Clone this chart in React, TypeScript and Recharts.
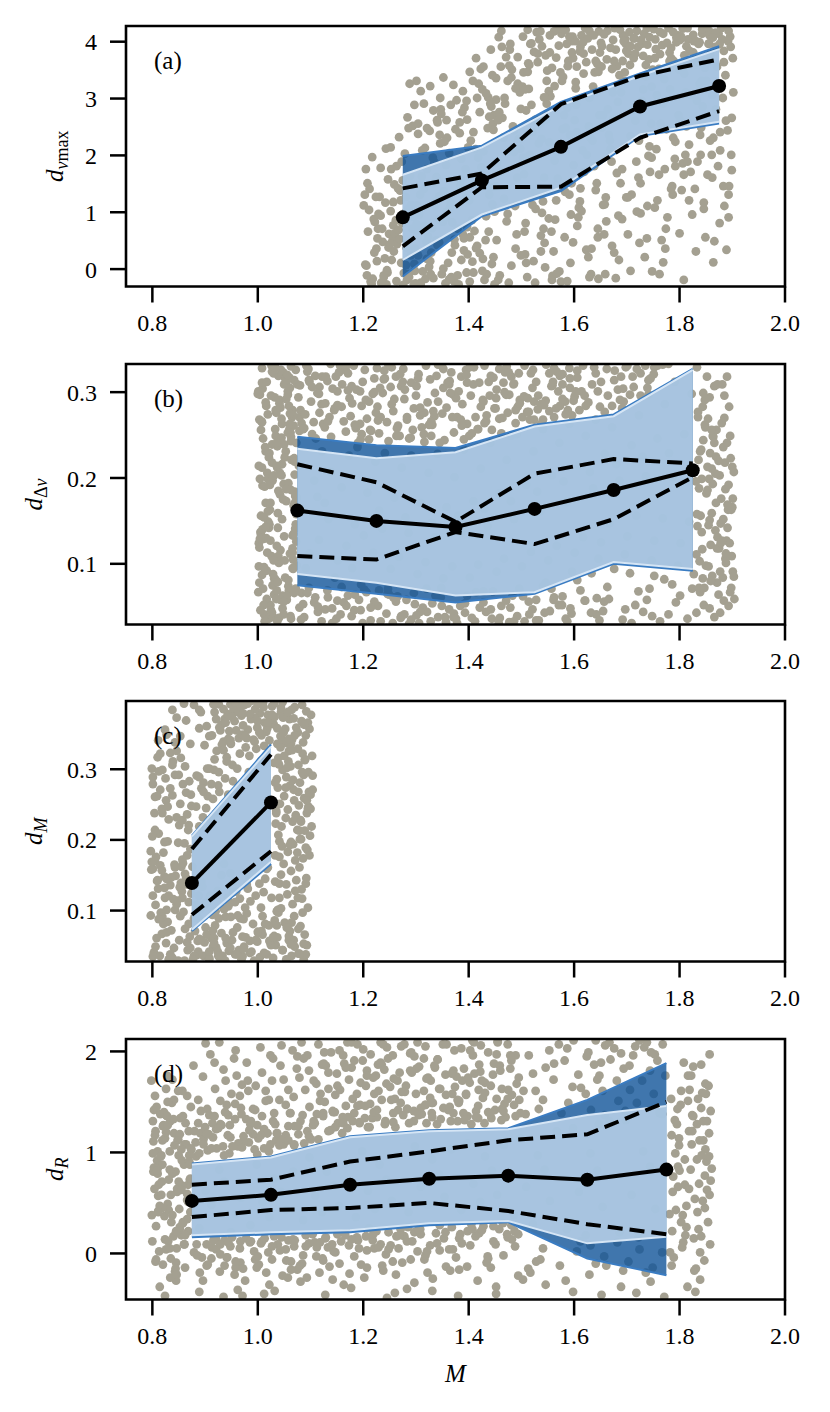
import React from 'react';
import { ComposedChart, XAxis, YAxis, Scatter, Area, Line, ReferenceArea } from 'recharts';

// ---------- shared axis values ----------
const xTicks = [0.8, 1.0, 1.2, 1.4, 1.6, 1.8, 2.0];
const xDomain: [number, number] = [0.75, 2.0];

// ---------- panel (a): d_numax ----------
const binsA = [1.275, 1.425, 1.575, 1.725, 1.875];
const medA = [0.91, 1.56, 2.15, 2.86, 3.22];
const upA = [1.42, 1.68, 2.9, 3.4, 3.69];
const loA = [0.4, 1.44, 1.45, 2.31, 2.78];
const innerLoA = [0.16, 0.96, 1.43, 2.37, 2.59];
const innerHiA = [1.66, 2.14, 2.88, 3.4, 3.87];
const outerLoA = [-0.13, 0.93, 1.37, 2.34, 2.56];
const outerHiA = [1.99, 2.17, 2.94, 3.44, 3.92];
const domainA: [number, number] = [-0.306, 4.276];
const yTicksA = [0, 1, 2, 3, 4];
// scatter (x in 1/1000, y in 1/100)
const ptsA = [
1214,-22,1237,48,1201,112,1246,-6,1222,83,1208,151,1241,19,1229,97,1218,-17,1249,62,1203,131,1233,178,1225,36,1244,-27,1211,104,1236,71,1247,158,1206,6,1231,127,1217,197,1243,212,1227,54,1239,-11,1220,88,1248,38,1205,176,1234,-24,1212,141,1242,117,1226,14,
1283,-19,1256,52,1271,121,1297,9,1262,86,1289,164,1252,214,1277,-7,1293,71,1266,142,1258,31,1285,106,1273,189,1299,-25,1260,63,1281,127,1268,232,1254,16,1295,92,1275,156,1287,-14,1264,44,1291,113,1279,203,1257,77,1298,-3,1270,138,1294,252,1288,326,1301,331,1263,181,1282,38,1253,176,1296,-27,1272,11,1278,98,1290,24,1267,69,1259,149,1286,248,
1318,-17,1341,42,1306,96,1334,151,1312,209,1347,281,1325,4,1303,67,1338,119,1321,176,1345,236,1309,-24,1329,29,1343,87,1315,141,1332,196,1304,256,1349,-9,1323,57,1337,111,1311,163,1346,221,1327,14,1301,79,1340,262,1317,213,1335,188,1308,131,1344,128,1320,48,1331,72,1348,273,1313,-4,1339,162,1326,243,
1372,-21,1391,33,1356,91,1384,147,1363,204,1397,263,1377,297,1352,1,1389,61,1366,117,1394,176,1359,231,1381,-27,1398,26,1369,82,1353,137,1386,194,1375,246,1392,284,1361,11,1379,71,1395,126,1357,183,1383,239,1367,-14,1354,224,1388,276,1373,52,1399,214,1364,108,1385,158,1358,101,1396,-6,
1427,18,1406,86,1441,144,1413,211,1448,271,1419,326,1434,-9,1402,56,1445,114,1424,179,1409,241,1437,302,1416,41,1449,101,1421,163,1404,226,1443,286,1430,-19,1411,67,1439,131,1418,196,1446,256,1426,316,1407,13,1433,93,1414,371,1442,386,1423,352,1436,248,1401,121,1447,21,1428,207,1412,151,
1476,-24,1453,51,1488,111,1461,171,1495,229,1469,291,1482,351,1457,408,1499,24,1472,84,1451,146,1486,206,1464,266,1493,326,1478,386,1459,-11,1491,61,1467,124,1454,187,1484,251,1497,311,1471,373,1462,419,1489,36,1474,97,1458,276,1492,161,1466,231,1481,6,1456,-19,1498,212,1479,396,1452,336,
1523,14,1508,81,1541,139,1516,201,1547,263,1502,321,1531,379,1512,421,1544,46,1527,106,1505,167,1538,229,1519,289,1549,349,1534,404,1511,-14,1542,71,1525,134,1503,196,1536,256,1514,317,1546,376,1529,417,1507,26,1539,99,1521,241,1548,291,1517,396,1533,221,1504,346,1543,161,1526,-24,1509,11,1537,59,1513,362,1545,3,
1572,-4,1557,66,1591,131,1563,191,1584,249,1552,313,1598,371,1576,414,1561,31,1594,96,1569,159,1553,223,1587,284,1574,346,1596,401,1558,-19,1582,56,1566,121,1599,183,1578,246,1555,304,1589,366,1571,423,1593,11,1564,87,1586,396,1554,381,1597,409,1567,206,1581,271,1595,151,1559,-12,1577,331,1592,236,1575,-22,1562,418,
1627,21,1608,91,1643,151,1616,209,1648,271,1603,329,1634,386,1621,424,1645,56,1611,119,1638,181,1605,241,1629,301,1649,357,1614,411,1632,-9,1606,76,1641,139,1624,201,1601,262,1636,321,1618,379,1647,418,1623,34,1609,108,1644,361,1626,406,1612,391,1639,346,1604,289,1631,231,1646,-17,1619,171,1635,226,1602,401,1628,251,
1672,41,1658,114,1691,176,1666,236,1683,294,1652,356,1697,404,1677,424,1661,84,1688,151,1669,211,1655,271,1694,331,1679,386,1663,419,1685,16,1699,126,1671,189,1653,249,1689,311,1676,366,1693,411,1657,61,1681,169,1664,281,1696,346,1674,264,1651,398,1686,341,1668,226,1698,396,1659,-9,1684,94,1673,311,
1724,46,1709,131,1741,199,1716,261,1747,321,1703,379,1733,414,1719,101,1744,171,1707,234,1729,296,1749,351,1713,406,1738,424,1702,61,1726,151,1743,216,1711,279,1736,339,1721,391,1705,417,1739,111,1718,189,1746,256,1731,316,1706,359,1728,396,1714,406,1742,369,1723,226,1748,-4,1734,21,
1773,36,1758,121,1791,194,1764,256,1782,316,1753,371,1797,411,1777,91,1761,166,1788,231,1769,291,1751,349,1794,399,1779,424,1766,51,1786,146,1756,211,1798,271,1771,334,1784,389,1763,417,1792,181,1775,246,1757,306,1789,366,1767,394,1754,404,1781,381,1796,409,1762,-9,1774,71,1787,131,1799,351,
1824,96,1806,186,1841,249,1812,311,1847,366,1803,409,1829,141,1818,219,1844,286,1809,344,1836,396,1815,424,1849,56,1821,171,1802,261,1838,326,1826,381,1843,414,1811,201,1833,296,1848,354,1816,404,1839,236,1804,139,1827,401,1845,416,1813,251,1834,189,1842,331,1808,-19,1822,306,1846,106,
1876,81,1853,166,1891,244,1862,306,1884,364,1857,411,1898,201,1869,281,1887,341,1855,396,1879,424,1893,131,1864,231,1882,301,1859,366,1896,409,1873,181,1888,261,1851,331,1868,391,1894,146,1877,241,1902,311,1861,201,1885,111,1899,266,1856,419,1874,414,1892,401,1866,49,1889,34,1871,356
];
const ptsA2 = [
1456,262,1468,301,1481,337,1493,373,1503,409,1463,391,1477,358,1489,318,1499,282,1512,347,1524,382,1536,418,1548,331,1507,316,1519,397,1531,364,1543,302,1554,411,1566,372,1579,338,1591,409,1558,354,1571,393,1584,421,1596,381,1605,356,1617,399,1629,419,1641,366,1653,392,1611,383,1623,364,1637,411,1649,381,1662,369,1674,403,1687,421,1699,384,1657,413,1669,389,1681,357,1694,401,1707,392,1719,419,1731,375,1743,408,1755,387,1713,371,1727,403,1739,395,1751,422,1763,378,1776,398,1788,417,1801,403,1813,392,1769,414,1781,366,1794,407,1806,423,1819,384,1831,401,1843,422,1856,397,1868,416,1881,404,1893,419,1826,412,1838,399,1851,426,1863,407,1876,396,1889,427,1897,391,1439,268,1447,245,1452,298,1486,244,1474,331,1461,356,1509,279,1527,263,1515,359,1539,392,1563,322,1588,357,1603,318,1618,344,1646,347,1672,352,1692,366,1716,379,1736,359,1761,352,1784,371,1809,376,1834,364,1858,378,1884,384,1901,371,
1204,8,1216,-26,1228,71,1239,-14,1251,44,1263,-21,1274,81,1286,-9,1298,36,1309,-28,1321,18,1333,-16,1344,47,1356,-25,1368,29,1379,-11,1391,54,1402,-22,1414,37,1426,-3,1438,66,1449,-27,1209,66,1221,29,1233,94,1245,-2,1257,118,1269,53,1281,7,1292,102,1304,24,1316,76,1328,-9,1339,51,1351,83,1363,-18,1374,42,1386,16,1397,74,1409,-6,1421,28,1432,51,1444,9,1207,-11,1224,127,1252,102,1276,-28,1302,112,
1284,267,1297,289,1309,313,1321,248,1333,279,1346,301,1358,262,1371,324,1383,258,1396,296,1408,331,1421,276,1433,309,1445,341,1315,291,1327,322,1341,258,1352,337,1366,289,1389,313,1402,347,1416,301,1428,356,1441,291,1304,238,
1506,66,1521,113,1537,31,1552,89,1567,-8,1583,136,1598,47,1614,102,1629,-14,1645,71,1660,126,1676,29,1691,88,1707,-3,1722,161,1738,54,1753,108,1769,12,1784,141,1800,63,1815,189,1831,31,1846,117,1862,161,1877,209,1893,91,1541,119,1587,-21,1633,36,1679,-16,1726,98,1772,176,1818,121,1864,12,1899,174,1612,142,1655,113,1702,126,1747,196,1792,224,1840,201,1883,146,1858,226,1808,166
];

// ---------- panel (b): d_Delta_nu ----------
const binsB = [1.075, 1.225, 1.375, 1.525, 1.675, 1.825];
const medB = [0.162, 0.15, 0.143, 0.164, 0.186, 0.209];
const upB = [0.216, 0.195, 0.149, 0.205, 0.222, 0.217];
const loB = [0.109, 0.105, 0.137, 0.123, 0.152, 0.201];
const innerLoB = [0.088, 0.078, 0.063, 0.067, 0.102, 0.094];
const innerHiB = [0.234, 0.223, 0.23, 0.26, 0.272, 0.326];
const outerLoB = [0.075, 0.065, 0.055, 0.065, 0.1, 0.092];
const outerHiB = [0.248, 0.238, 0.235, 0.262, 0.274, 0.327];
const domainB: [number, number] = [0.0293, 0.3328];
const yTicksB = [0.1, 0.2, 0.3];
// scatter (x in 1/1000, y in 1/1000)
const ptsB = [
1012,41,1047,63,1029,88,1061,112,1005,137,1038,159,1070,184,1018,206,1053,231,1033,257,1066,279,1009,304,1044,326,1024,52,1058,74,1002,97,1036,121,1072,146,1015,171,1049,193,1027,218,1063,243,1007,266,1041,291,1069,314,1021,36,1055,58,1031,83,1067,105,1011,129,1046,152,1074,177,1019,199,1051,224,1034,249,1065,271,1004,297,1039,319,1025,46,1059,69,1014,92,1043,116,1071,141,1023,163,1056,188,1008,212,1037,237,1068,261,1016,284,1050,309,1030,331,1062,39,1003,78,1040,101,1073,126,1020,149,1054,173,1028,197,1064,221,1010,246,1045,269,1032,294,1060,317,1017,59,1052,84,1026,109,1066,133,1006,156,1042,181,1070,204,1022,229,1057,253,1035,276,1001,301,1048,323,1013,33,1067,94,1038,142,1074,166,1009,191,1046,216,1027,239,1061,263,1015,288,1054,311,1072,71,1003,119,1036,214,1050,132,1019,274,1063,186,1031,64,1044,241,1008,328,1057,297,
1103,251,1081,279,1117,306,1092,331,1124,263,1077,294,1109,319,1086,257,1121,286,1098,312,1079,271,1113,299,1094,324,1106,265,
1139,248,1163,266,1128,287,1151,301,1171,322,1145,279,1132,313,1167,254,1156,331,1127,259,1174,293,1148,318,1136,271,1160,309,
1211,245,1186,258,1224,276,1197,284,1178,307,1218,298,1203,326,1190,241,1221,316,1182,331,1207,269,1194,301,1215,255,1199,312,
1248,243,1266,261,1233,271,1259,292,1272,307,1241,316,1227,283,1254,329,1269,249,1237,299,1262,318,1245,265,1230,252,1257,278,
1287,246,1311,259,1296,281,1322,288,1279,303,1305,321,1316,242,1291,311,1283,268,1319,331,1300,296,1276,327,1308,273,1294,256,
1354,244,1331,262,1369,271,1342,289,1363,309,1327,315,1349,331,1372,253,1336,299,1358,282,1345,241,1367,323,1333,278,1352,305,
1391,245,1417,257,1378,271,1404,296,1423,283,1386,318,1410,329,1397,263,1381,301,1420,311,1401,249,1388,286,1413,271,1395,326,
1462,252,1433,266,1449,281,1471,297,1438,312,1458,327,1427,291,1466,311,1444,256,1474,276,1453,303,1430,331,1469,323,
1489,264,1514,277,1497,291,1521,305,1481,318,1506,331,1493,283,1518,322,1477,297,1502,271,1524,289,1485,309,
1541,268,1566,281,1532,296,1557,307,1573,319,1547,332,1528,312,1562,271,1537,286,1553,322,1570,301,
1596,273,1583,289,1614,301,1606,317,1591,328,1622,284,1578,309,1601,295,1617,331,1588,279,
1627,288,1651,312,1638,329,1664,296,1689,318,1672,284,1701,331,1713,306,1694,289,1726,322,1741,314,1658,277,1683,303,1719,327,1752,329,1645,301,1677,325,1735,331,1706,297,1768,332,
1088,38,1109,61,1079,49,1121,33,1097,72,1114,44,1083,66,1141,31,1163,55,1132,69,1157,41,1171,63,1128,47,1149,36,1192,58,1214,34,1183,46,1206,67,1221,52,1178,39,1199,31,1244,42,1262,56,1233,33,1257,61,1271,37,1228,51,1249,64,1291,35,1313,49,1282,58,1306,31,1321,44,1278,41,1298,53,1342,38,1363,47,1331,54,1357,32,1372,42,1328,33,1349,51,1393,43,1412,33,1384,51,1406,37,1421,49,1378,31,1444,36,1462,51,1433,44,1457,31,1471,57,1428,55,1492,39,1514,56,1483,63,1506,33,1521,47,1479,49,1544,43,1562,61,1533,34,1557,71,1571,52,1528,58,1593,48,1612,69,1584,36,1606,81,1621,57,1578,62,1642,41,1663,73,1633,89,1657,56,1676,94,1648,34,
1697,47,1722,68,1748,39,1771,82,1793,55,1815,36,1706,89,1738,58,1763,33,1786,76,1709,31,1752,86,1824,71,1731,44,
1846,52,1871,78,1838,103,1889,127,1857,151,1879,176,1842,199,1897,223,1864,248,1835,271,1885,296,1852,318,1874,64,1901,91,1843,117,1868,139,1892,163,1837,188,1861,211,1883,236,1849,259,1894,283,1866,307,1833,329,1877,43,1855,97,1899,109,1840,156,1872,131,1887,187,1858,229,1903,207,1845,244,1880,264,1862,86,1891,142,1836,221,1869,171,1884,57,1851,182,1896,249,1839,67,1876,203,1859,122,1888,101,1848,291,1866,38,1893,192,1834,144,1881,309,1854,269,1898,72,1870,256,1844,83,1886,218,1861,159,1832,111,1875,118,1900,166,1853,213,1878,147,1841,233,1890,241,1863,193,1847,72,1882,84,1857,48,1895,124,
1091,95,1116,128,1082,163,1107,197,1122,231,1098,112,1078,214,1113,178,1146,84,1168,121,1134,152,1159,189,1173,226,1139,207,1152,104,1127,171,1196,76,1219,113,1184,146,1208,183,1223,219,1189,236,1201,133,1179,95,1247,71,1268,108,1236,141,1259,177,1273,212,1241,229,1252,94,1230,162,1296,66,1318,102,1286,136,1309,171,1324,206,1291,226,1303,88,1280,154,1347,61,1369,97,1336,131,1358,166,1373,201,1341,228,1352,83,1330,148,1397,63,1418,99,1386,136,1409,173,1423,211,1391,233,1402,84,1380,156,1446,68,1467,106,1436,144,1458,182,1472,221,1441,241,1453,91,1430,164,1496,71,1518,114,1486,152,1509,192,1523,231,1491,251,1501,97,1480,173,1546,78,1567,121,1536,161,1558,203,1572,241,1541,257,1551,104,1530,184,1596,91,1617,131,1585,172,1608,214,1622,249,1591,263,1601,113,1580,196,1646,106,1667,147,1636,188,1658,228,1672,259,1641,268,1651,125,1630,207,1696,111,1718,156,1686,197,1709,238,1723,273,1691,281,1701,132,1680,216,1747,104,1768,153,1736,202,1758,246,1772,286,1741,297,1752,127,1730,225,1797,98,1818,149,1786,201,1809,251,1823,298,1791,312,1802,124,1780,229
];
const ptsB2 = [
1037,212,1008,87,1061,305,1022,146,1049,41,1003,268,1071,179,1030,322,1055,63,1015,231,1066,118,1041,287,1011,52,1058,194,1026,331,1074,98,1045,247,1019,161,1063,36,1034,279,1006,134,1052,316,1028,75,1069,223,1013,190,1047,48,1000,298,1039,109,1060,257,1024,171,1072,326,1017,92,1050,239,1009,140,1043,58,1067,273,1031,203,1056,315,1002,124,1036,69,
1012,154,1057,301,1033,82,1070,219,1005,46,1046,263,1024,127,1063,330,1039,185,1001,67,1054,292,1018,113,1073,241,1029,38,1048,175,1008,311,1066,95,1042,206,1021,142,1059,284,1035,59,1014,236,1068,168,1027,324,1051,104,1004,199,1062,253,1038,79,1016,130,1075,309,
1387,261,1122,318,1573,284,1248,331,1480,249,1171,302,1335,272,1606,325,1213,256,1452,293,1097,314,1524,268,1290,247,1409,309,1146,281,1562,328,1264,258,1371,297,1495,322,1083,264,1428,289,1197,251,1592,316,1316,276,1138,333,1537,263,1232,305,1464,270,1352,327,1179,287,1610,279,1275,312,1505,295,1110,246,1396,320,1553,278,1221,300,1325,262,1472,330,1159,283,1584,274,1301,307,1090,274,1442,319,1205,291,1516,268,1360,311,1133,266,1567,324,1254,286,1418,257,1187,303,1489,279,1342,332,1599,290,1116,298,1458,269,1239,315,1376,293,1531,280,1166,326,1308,282,1578,292,1103,306,1434,273,1270,321,1546,290,1194,263,1402,329,1511,277,1079,255,1364,313,1620,296,1228,267,1447,317,1151,285,1329,249,1559,308,1283,271,1476,323,
1634,309,1662,327,1687,291,1711,318,1739,305,1758,331,1649,283,1676,314,1698,329,1726,296,1751,321,1779,333,1641,322,1693,304,1745,316,
1308,44,1133,61,1486,33,1202,70,1577,52,1371,38,1094,66,1442,47,1256,31,1620,57,1159,73,1515,41,1337,63,1082,35,1393,54,1230,69,1554,45,1287,30,1666,59,1114,50,1459,37,1184,64,1595,42,1348,72,1221,56,1528,34,1141,48,1414,67,1272,39,1643,60,1086,53,1477,32,1320,71,1195,46,1561,58,1376,36,1246,65,1632,43,1168,51,1503,62,1301,40,1107,55,1428,68,1587,33,1214,49,1541,74,1355,38,1151,57,1655,45,1265,62,
1871,118,1839,231,1896,67,1857,294,1883,152,1832,43,1868,205,1901,176,1848,262,1877,91,1890,318,1842,137,1863,249,1904,59,1853,186,1887,106,1835,277,1874,220,1859,80,1898,163,1845,299,1880,127,1866,241,1893,51,1831,196,1855,145,1885,270,1850,98,1900,213,1872,309,1837,72,1891,169,1861,256,1878,124,1844,283,1903,85,1869,225,1833,158,1888,112,1856,199,
1716,52,1743,71,1779,41,1801,63,1827,88,1692,35,
1054,187,1017,312,1069,66,1036,241,1004,129,1061,275,1027,43,1045,203,1012,96,1073,158,1033,329,1058,81,1021,224,1008,265,1066,113,1040,37,1025,296,1071,172,1002,214,1049,56,1015,143,1063,248,1030,104,1056,320,1010,71,1043,282,1068,135,1023,192,1037,33,1006,256,
1512,293,1184,262,1397,311,1096,327,1451,281,1263,249,1142,304,1578,321,1329,266,1211,289,1486,310,1117,276,1365,299,1240,325,1543,285,1088,258,1304,316,1430,264,1167,330,1592,305,1278,292,1406,252,1129,318,1522,326,1350,275,1195,245,1468,300,1101,289,1385,268,1252,306,1560,312,1154,323,1315,251,1440,296,1226,328,1497,287,1080,308,1339,319,1176,272,1603,301
];

// ---------- panel (c): d_M ----------
const binsC = [0.875, 1.025];
const medC = [0.139, 0.253];
const upC = [0.187, 0.321];
const loC = [0.094, 0.184];
const innerLoC = [0.073, 0.169];
const innerHiC = [0.205, 0.332];
const outerLoC = [0.071, 0.166];
const outerHiC = [0.206, 0.335];
const domainC: [number, number] = [0.0279, 0.3966];
const yTicksC = [0.1, 0.2, 0.3];
// scatter (x in 1/1000, y in 1/1000)
const ptsC = [
803,41,818,67,797,93,824,118,809,142,814,36,801,159,821,81,806,108,826,54,811,131,799,169,816,97,823,148,808,61,
838,33,851,58,829,84,846,109,834,136,855,162,841,47,831,121,853,92,844,149,836,72,849,29,827,101,856,127,842,165,
867,44,881,71,859,98,874,124,862,152,884,37,871,63,857,118,879,89,865,137,886,57,876,162,861,29,883,108,869,81,
897,36,912,61,889,88,905,113,893,141,915,49,901,76,908,31,891,102,914,94,899,55,910,121,887,42,903,66,
928,33,941,54,919,79,936,102,924,128,945,43,931,68,939,91,921,48,943,118,933,36,917,61,938,29,926,89,
957,38,971,63,949,91,966,117,954,141,974,49,961,76,969,31,951,58,976,104,959,127,964,44,947,111,973,88,
988,42,1001,68,979,96,996,121,984,147,1004,34,991,81,999,56,981,131,1006,104,993,29,977,62,1003,138,986,113,
1017,38,1031,64,1009,92,1026,118,1014,145,1034,51,1021,79,1029,33,1011,126,1036,99,1019,161,1024,54,1007,71,1033,141,
1047,44,1061,71,1039,97,1056,123,1044,151,1064,36,1051,83,1059,58,1041,138,1066,109,1049,166,1054,31,1037,62,1063,156,
1077,39,1089,66,1069,92,1084,117,1073,143,1093,51,1081,78,1087,31,1071,128,1095,104,1079,161,1091,138,1068,58,
807,176,829,198,851,221,818,244,864,267,801,289,839,311,872,187,812,209,846,232,826,256,858,279,799,301,834,323,868,214,821,182,853,251,804,238,843,292,815,271,862,304,831,229,874,248,810,317,849,196,825,287,857,172,800,205,838,263,866,236,819,299,846,326,805,261,870,283,
1041,176,1067,194,1089,213,1053,231,1078,249,1097,268,1036,286,1062,304,1085,322,1049,341,1073,359,1101,377,1031,393,1057,183,1082,201,1045,219,1093,238,1069,256,1038,274,1087,292,1058,311,1076,329,1043,347,1095,366,1064,384,1034,223,1071,171,1050,262,1099,206,1080,281,1047,299,1091,348,1060,371,1037,336,1084,391,1066,226,1055,337,1103,319,1075,214,1042,251,1088,259,1061,277,1039,316,1096,296,1070,388,1052,357,1083,368,1030,364,1065,342,1094,186,1046,191,1077,306,1100,244,1057,243,1086,338,1035,241,1072,235,1048,373,1092,382,1063,197,1081,228,1040,307,1098,357,1054,289,1068,271,1044,381,1089,313,1059,326,1076,352,1033,178,1104,271,
913,348,937,371,958,389,981,356,1004,379,1022,341,926,392,949,336,972,362,995,385,1016,353,941,317,964,344,987,371,1010,394,931,363,954,384,977,331,999,359,1019,377,918,381,946,354,969,376,992,342,1013,366,935,339,962,395,984,319,1007,348,1027,389,922,326,952,306,975,391,997,329,1025,371,943,378,966,322,990,397,1012,333,929,355,956,368,979,344,1001,392,948,392,971,349,994,373,1018,358,917,299,938,287,961,301,983,296,1006,312,925,277,944,264,953,283,932,246,905,262,921,238,897,281,911,229,
889,219,902,245,893,273,915,258,884,291,908,301,927,268,896,232,
838,384,864,369,879,391,853,347,872,336,889,358,824,356,846,373,811,341,892,381,860,393,899,334
];
const ptsC2 = [
939,61,823,132,1047,44,884,97,992,155,801,35,1076,118,915,72,858,167,1025,51,967,89,810,143,1091,38,900,109,843,161,1009,66,953,126,872,47,1064,83,931,150,831,31,1038,101,979,137,892,58,805,170,1055,76,924,42,847,114,1017,159,962,93,866,55,1083,130,908,33,836,147,1000,70,944,106,815,164,1070,49,888,121,1032,86,854,139,985,40,920,99,798,158,1059,64,957,112,879,36,1014,81,827,145,1087,53,936,166,862,74,1044,103,973,46,895,134,819,91,1022,57,948,153,840,116,1079,39,
1072,231,1037,358,1091,189,1055,302,1100,264,1044,387,1079,213,1063,336,1033,281,1086,174,1050,319,1096,247,1068,372,1041,198,1104,291,1059,343,1082,226,1031,309,1075,182,1047,395,1093,256,1065,327,1039,207,1088,363,1053,274,1098,178,1070,348,1035,238,1084,296,1057,381,1102,219,1043,331,1077,268,1061,193,1090,314,1049,352,1095,244,1067,285,1032,374,1080,201,
921,371,968,389,1003,352,944,343,889,384,1019,366,957,395,932,335,985,378,903,361,976,347,1011,388,951,374,927,359,994,339,916,392,963,381,1027,377,939,366,981,393,908,347,959,355,1000,368,935,385,972,379,
823,197,809,262,857,228,838,306,801,279,866,178,829,247,815,322,850,292,873,264,805,214,843,338,861,195,819,238,834,273,797,184,854,316,827,349,869,221,812,297,
883,247,897,268,912,279,926,296,941,311,889,289,904,301,918,314,935,327,948,341,
812,88,1063,52,877,31,948,47,1029,62,801,121,925,36,1085,97,864,146,996,58,827,69,1041,118,908,42,971,35,818,157,1077,74,889,60,1012,40,843,101,953,69,1054,137,834,38,985,57,869,112,1092,146,917,54,806,49,1036,79,960,38,852,133
];

// ---------- panel (d): d_R ----------
const binsD = [0.875, 1.025, 1.175, 1.325, 1.475, 1.625, 1.775];
const medD = [0.52, 0.58, 0.68, 0.74, 0.77, 0.73, 0.83];
const upD = [0.68, 0.73, 0.91, 1.01, 1.12, 1.18, 1.5];
const loD = [0.36, 0.43, 0.45, 0.5, 0.42, 0.29, 0.19];
const innerLoD = [0.18, 0.21, 0.23, 0.3, 0.32, 0.1, 0.165];
const innerHiD = [0.88, 0.95, 1.15, 1.21, 1.23, 1.37, 1.46];
const outerLoD = [0.16, 0.19, 0.21, 0.28, 0.31, -0.05, -0.215];
const outerHiD = [0.89, 0.96, 1.16, 1.22, 1.24, 1.52, 1.885];
const domainD: [number, number] = [-0.456, 2.123];
const yTicksD = [0, 1, 2];
// scatter (x in 1/1000, y in 1/100)
const ptsD = [
800,12,823,37,847,61,812,86,861,108,834,131,806,-8,852,24,829,49,871,73,817,97,841,119,803,142,866,156,826,4,858,31,811,57,844,81,874,103,820,126,837,149,798,171,855,18,831,43,868,68,809,92,849,113,815,138,862,-14,826,163,838,79,804,64,872,41,819,112,853,134,807,27,845,-27,833,101,860,88,814,-33,869,121,802,111,841,152,828,176,857,161,811,42,846,5,835,-5,873,145,818,71,824,-42,866,53,801,131,850,97,
883,96,907,118,892,141,919,163,878,186,901,208,914,129,887,152,922,104,896,175,910,197,880,121,904,143,918,189,
946,99,931,127,968,144,939,171,955,193,927,209,973,116,950,158,935,182,962,106,944,137,958,201,929,151,970,167,
1012,104,987,131,1021,152,996,166,979,189,1005,204,1018,119,991,143,983,110,1008,179,1024,196,999,127,1015,161,981,171,
1049,108,1070,126,1031,139,1058,162,1043,186,1066,201,1027,171,1053,147,1074,183,1036,119,1061,139,1045,206,1029,193,1068,155,
1101,113,1085,137,1118,151,1079,174,1094,196,1122,187,1108,129,1090,162,1115,207,1077,118,1097,181,1111,168,1083,209,1124,139,
1138,122,1161,135,1147,157,1173,172,1129,186,1155,201,1167,146,1134,163,1150,178,1170,209,1142,141,1126,199,1164,188,1152,129,
1209,125,1183,139,1221,158,1195,169,1178,184,1214,197,1189,207,1204,146,1224,176,1180,153,1199,191,1217,134,1193,129,1207,181,
1241,128,1266,142,1229,161,1258,173,1247,193,1272,205,1235,187,1253,152,1269,179,1226,135,1261,125,1244,168,1233,209,1256,196,
1296,131,1318,147,1281,166,1306,185,1291,199,1323,174,1278,207,1311,138,1300,158,1284,143,1315,193,1289,181,1320,129,1303,209,
1347,133,1369,158,1332,149,1356,177,1341,192,1373,201,1328,171,1361,142,1351,207,1336,184,1366,131,1344,163,1371,181,1330,139,
1398,136,1381,149,1419,162,1391,183,1408,196,1377,175,1423,206,1402,169,1386,203,1414,141,1395,158,1420,187,1379,131,1411,178,
1443,134,1468,148,1431,169,1482,157,1459,186,1495,174,1437,199,1474,207,1450,142,1489,196,1427,154,1463,163,1498,139,1455,209,1479,183,1446,177,
1508,138,1527,161,1546,184,1571,207,1589,149,1514,196,1533,143,1561,172,1582,191,1597,165,1522,178,1553,201,1541,152,1576,139,1504,161,
1613,164,1638,187,1659,206,1681,171,1627,199,1648,176,1669,192,1694,183,1622,158,1654,161,1676,203,1641,211,
1712,196,1733,204,1758,191,1724,211,1746,199,1768,207,1705,186,
1632,142,1658,137,1684,151,1706,162,1729,171,1751,158,1773,176,1647,128,1697,141,1719,149,1744,181,1762,139,
884,9,903,-12,921,4,896,-27,937,13,889,-38,912,-5,928,-18,879,1,917,14,
948,7,967,-9,985,11,956,-21,993,2,962,-36,978,15,942,-4,998,-14,971,-42,
1008,12,1027,-6,1045,16,1016,-19,1053,4,1022,-31,1038,9,1002,-11,1057,-24,1031,17,
1067,14,1086,-2,1104,19,1075,-16,1112,6,1081,-28,1097,10,1063,-8,1117,-19,1091,18,
1128,15,1147,1,1165,20,1136,-13,1173,8,1142,-26,1158,12,1123,-5,1177,-34,1151,19,
1188,16,1207,3,1225,22,1196,-11,1233,9,1202,-24,1218,13,1183,-3,1238,-17,1211,25,
1248,21,1267,5,1285,26,1256,-8,1293,12,1262,-21,1278,17,1243,-1,1297,-29,1271,24,
1308,24,1327,8,1345,28,1316,-6,1353,15,1322,-19,1338,20,1303,2,1357,-13,1331,-37,
1368,26,1387,10,1405,29,1376,-4,1413,17,1382,-16,1398,22,1363,4,1417,-27,
1428,27,1447,12,1465,30,1436,-3,1473,19,1442,-14,1458,24,1488,7,1494,-22,1481,28,1452,-33,
935,-43,1012,-40,1128,-41,1245,-44,1380,-42,1452,-40,
1517,-19,1546,-31,1573,-12,1598,-38,1629,-21,1652,-41,1689,-33,1718,-39,1745,-28,1771,-43,1536,-6,1584,-27,1661,-12,
1605,2,1631,8,1657,-3,1682,11,1703,-8,1724,4,1749,-14,1767,1,1641,-10,1693,-17,1736,-19,1612,12,
1789,-4,1811,18,1834,41,1852,63,1797,86,1823,108,1845,131,1784,153,1816,176,1839,-26,1858,9,1803,31,1829,54,1848,77,1792,99,1818,121,1841,144,1855,166,1808,189,1831,-15,1786,22,1813,47,1837,69,1851,91,1799,114,1826,136,1843,159,1782,1,1806,38,1849,103,1821,83,1795,128,1844,52,1815,-33,1859,141,1787,61,1833,93,1802,147,1827,15,1856,119,1810,68,1838,112,1793,43,1847,-7,1824,137,1854,31,1800,82,1830,-38,1841,187,1857,197,1819,162,1785,117,1836,24,1805,6,1850,158,
889,25,912,48,936,71,958,39,901,62,927,83,949,21,968,55,986,28,1009,51,1031,74,1054,43,998,88,1022,36,1044,61,1067,81,1086,33,1109,57,1131,81,1154,47,1098,95,1122,41,1144,67,1167,89,1186,36,1209,62,1231,88,1254,52,1198,101,1222,44,1244,73,1267,97,1286,41,1309,66,1331,93,1354,56,1298,106,1322,48,1344,78,1367,103,1386,43,1409,69,1431,96,1454,58,1398,109,1422,51,1444,82,1467,107,1486,38,1509,66,1531,97,1554,52,1498,114,1522,29,1544,83,1567,121,1586,24,1609,61,1631,99,1654,46,1598,124,1622,18,1644,82,1667,131,1686,21,1709,58,1731,101,1754,44,1698,132,1722,16,1744,86,1767,138
];
const ptsD2 = [
1213,148,947,127,1388,171,1062,139,1479,196,891,119,1301,183,1156,162,1024,108,1437,140,978,133,1245,204,1119,158,1352,144,905,102,1491,168,1183,191,1041,152,1276,137,960,176,1410,209,1094,121,1327,154,882,110,1228,187,1463,143,1001,114,1139,199,1374,165,929,128,1260,153,1081,131,1422,180,1194,147,1012,123,1315,161,952,106,1448,188,1106,171,1283,143,897,113,1171,135,1399,174,1053,117,1238,207,986,128,1341,192,1127,150,1470,135,915,115,1205,166,1364,145,1035,112,1292,179,969,138,1431,159,1147,125,1075,195,1496,152,1220,140,938,140,1320,173,1162,129,1018,119,1403,201,
1265,171,1008,136,1453,197,1188,158,921,123,1335,186,1098,145,1407,211,973,111,1251,165,1134,179,1486,147,887,129,1318,205,1046,113,1219,174,1379,152,957,148,1167,184,1442,166,1029,131,1297,195,1112,138,1368,178,943,117,1200,202,1474,153,1069,107,1346,163,995,142,1233,189,1418,134,1151,166,908,137,1289,198,1058,126,1395,157,1178,209,1015,151,1460,181,934,106,1309,144,1087,193,1257,130,1425,171,982,161,1143,140,1358,207,1037,119,1207,176,1481,191,900,125,1273,160,1125,188,1390,139,966,156,1193,130,1455,210,1049,172,1330,149,1105,127,1240,182,1414,135,991,118,1162,196,
814,47,852,118,833,83,805,156,868,22,826,137,847,64,810,101,861,9,838,172,799,38,856,92,821,127,843,-18,872,74,808,145,830,12,864,108,817,58,849,161,802,81,836,31,858,136,824,114,845,-9,812,68,870,97,829,150,851,44,806,121,840,17,866,59,819,88,834,-24,855,103,
1813,26,1842,97,1796,143,1857,58,1824,121,1788,76,1849,168,1807,11,1835,153,1861,84,1799,107,1828,-17,1852,131,1781,39,1818,64,1845,112,1803,161,1839,1,1856,96,1791,132,1822,176,1848,45,1810,93,1833,128,1785,-12,1859,72,1816,151,1841,17,1797,66,1826,185,
1124,-7,913,6,1382,15,1047,-22,1269,18,958,-14,1451,9,1163,-31,1006,10,1318,-2,890,-19,1221,5,1420,20,1084,-10,1345,3,976,-27,1190,13,1528,-8,1032,-37,1297,21,941,-4,1252,8,1108,11,1474,16,1365,-17,921,14,1144,2,1503,-26,1069,7,1236,-12,995,-6,1407,24,1174,-20,1283,-35,1020,1,1434,-9,905,-11,1205,17,1332,-25,1058,13,1541,5,967,12,1397,-13,1133,6,1260,-39,1487,22,1093,-24,1309,19,929,9,1513,-15,
1562,188,1587,203,1608,177,1624,195,1651,189,1667,209,1689,198,1716,205,1738,209,1753,197,1599,211,1644,172,
831,73,862,18,807,-6,848,112,819,45,870,91,840,133,813,2,857,67,826,120,866,34,803,85,844,-15,835,58,873,104,822,140,852,26,810,79,860,9,829,127,868,51,816,96,846,-21,838,38,805,117,855,63,824,14,871,88,842,107,811,41,863,129,833,5,801,99,850,71,820,-11,874,55,828,136,858,30,809,82,845,22,
1203,134,912,104,1371,139,1058,112,1466,141,936,97,1287,129,1134,121,994,103,1418,146,889,99,1242,131,1097,116,1340,128,963,109,1489,136,1170,124,1021,101,1305,137,948,115,1392,132,1077,126,1226,142,903,118,1453,153,1115,113,1271,149,984,122,1357,157,1041,107,1189,146,925,124,1430,129,1146,140,1006,117,1318,147,970,105,1475,162,1088,109,1257,139,897,108,1382,151,1160,119,1033,128,1296,141,957,133,1441,138,1124,136,1212,125,918,136,1331,135,1069,108,1405,128,1180,131,999,98,1279,160,941,147,1462,132,1106,131,1235,152,
1178,14,903,9,1356,21,1042,3,1447,27,958,-8,1263,17,1111,-3,987,12,1403,8,894,-4,1229,6,1070,13,1321,2,944,11,1482,14,1155,-10,1013,15,1290,-6,929,-1,1384,19,1091,7,1207,-14,916,13,1466,-2,1129,16,1248,4,972,-15,1340,10,1054,-7,1192,5,937,-12,1425,23,1141,9,1000,-3,1305,24,966,5,1494,19,1080,-12,1274,-9,885,-2,1370,4,1166,18,1027,7,1283,12,951,16,1437,-5,1118,11,1219,19,1063,-16
];

// ---------- helpers ----------
function pairs(flat: number[], sx: number, sy: number) {
  const out: { x: number; y: number }[] = [];
  for (let i = 0; i + 1 < flat.length; i += 2) out.push({ x: flat[i] / sx, y: flat[i + 1] / sy });
  return out;
}

function rows(bins: number[], med: number[], up: number[], lo: number[], inLo: number[], inHi: number[], outLo: number[], outHi: number[]) {
  return bins.map((x, i) => ({
    x,
    med: med[i],
    up: up[i],
    lo: lo[i],
    inner: [inLo[i], inHi[i]],
    outer: [outLo[i], outHi[i]],
  }));
}

const FONT = "'Liberation Serif', 'Times New Roman', serif";
const PT_COLOR = '#a4a091';
const PLOT_H = 260.5;

const Dot = (p: any) => <circle cx={p.cx} cy={p.cy} r={4.4} fill={PT_COLOR} />;

type PanelProps = {
  top: number;
  data: any[];
  pts: { x: number; y: number }[];
  domain: [number, number];
  yTicks: number[];
  yFmt: (v: number) => string;
};

function Panel({ top, data, pts, domain, yTicks, yFmt }: PanelProps) {
  const tickStyle = { fill: '#000', fontSize: 24, fontFamily: FONT };
  const tickLine = { stroke: '#000', strokeWidth: 2.5 };
  return (
    <div style={{ position: 'absolute', left: 0, top: top - 10 }}>
      <ComposedChart width={830} height={PLOT_H + 90} data={data} margin={{ top: 10, right: 45, bottom: 0, left: 0 }}>
        <XAxis
          dataKey="x"
          type="number"
          domain={xDomain}
          ticks={xTicks}
          allowDataOverflow
          interval={0}
          height={80}
          tickSize={16}
          tickMargin={11}
          axisLine={false}
          tickLine={tickLine}
          tick={tickStyle}
          tickFormatter={(v: number) => v.toFixed(1)}
        />
        <YAxis
          dataKey="y"
          type="number"
          domain={domain}
          ticks={yTicks}
          allowDataOverflow
          interval={0}
          width={126}
          tickSize={16}
          tickMargin={13}
          axisLine={false}
          tickLine={tickLine}
          tick={tickStyle}
          tickFormatter={yFmt}
        />
        <Scatter data={pts} dataKey="y" shape={Dot} isAnimationActive={false} legendType="none" zIndex={50} />
        <Area
          dataKey="outer"
          type="linear"
          fill="#105498"
          fillOpacity={0.8}
          stroke="#3a7cc2"
          strokeWidth={2}
          dot={false}
          activeDot={false}
          isAnimationActive={false}
          legendType="none"
          zIndex={100}
        />
        <Area
          dataKey="inner"
          type="linear"
          fill="#b4cde6"
          fillOpacity={0.9}
          stroke="#d5e5f5"
          strokeWidth={2}
          dot={false}
          activeDot={false}
          isAnimationActive={false}
          legendType="none"
          zIndex={110}
        />
        <Line dataKey="up" type="linear" stroke="#000" strokeWidth={4} strokeDasharray="15 7" dot={false} activeDot={false} isAnimationActive={false} legendType="none" zIndex={400} />
        <Line dataKey="lo" type="linear" stroke="#000" strokeWidth={4} strokeDasharray="15 7" dot={false} activeDot={false} isAnimationActive={false} legendType="none" zIndex={400} />
        <Line
          dataKey="med"
          type="linear"
          stroke="#000"
          strokeWidth={4}
          dot={{ r: 7, fill: '#000', stroke: '#000', strokeWidth: 0 }}
          activeDot={false}
          isAnimationActive={false}
          legendType="none"
          zIndex={410}
        />
        <ReferenceArea x1={xDomain[0]} x2={xDomain[1]} y1={domain[0]} y2={domain[1]} fill="none" fillOpacity={0} stroke="#000" strokeWidth={2.6} zIndex={700} />
      </ComposedChart>
    </div>
  );
}

const dataA = rows(binsA, medA, upA, loA, innerLoA, innerHiA, outerLoA, outerHiA);
const dataB = rows(binsB, medB, upB, loB, innerLoB, innerHiB, outerLoB, outerHiB);
const dataC = rows(binsC, medC, upC, loC, innerLoC, innerHiC, outerLoC, outerHiC);
const dataD = rows(binsD, medD, upD, loD, innerLoD, innerHiD, outerLoD, outerHiD);

const scatterA = pairs(ptsA.concat(ptsA2), 1000, 100);
const scatterB = pairs(ptsB.concat(ptsB2), 1000, 1000);
const scatterC = pairs(ptsC.concat(ptsC2), 1000, 1000);
const scatterD = pairs(ptsD.concat(ptsD2), 1000, 100);

const intFmt = (v: number) => String(v);
const decFmt = (v: number) => v.toFixed(1);

const TOPS = [26, 364.3, 701, 1039];
const panelLabels = ['(a)', '(b)', '(c)', '(d)'];

function YLabel({ x, y, children }: { x: number; y: number; children: React.ReactNode }) {
  return (
    <text x={x} y={y} transform={`rotate(-90 ${x} ${y})`} textAnchor="middle" fontFamily={FONT} fontSize={25} fill="#000">
      {children}
    </text>
  );
}

export default function App() {
  return (
    <div style={{ position: 'absolute', left: 0, top: 0, width: 830, height: 1412, background: '#fff', fontFamily: FONT }}>
      <Panel top={TOPS[0]} data={dataA} pts={scatterA} domain={domainA} yTicks={yTicksA} yFmt={intFmt} />
      <Panel top={TOPS[1]} data={dataB} pts={scatterB} domain={domainB} yTicks={yTicksB} yFmt={decFmt} />
      <Panel top={TOPS[2]} data={dataC} pts={scatterC} domain={domainC} yTicks={yTicksC} yFmt={decFmt} />
      <Panel top={TOPS[3]} data={dataD} pts={scatterD} domain={domainD} yTicks={yTicksD} yFmt={intFmt} />
      <svg width={830} height={1412} style={{ position: 'absolute', left: 0, top: 0, pointerEvents: 'none' }}>
        {panelLabels.map((t, i) => (
          <text key={t} x={154} y={TOPS[i] + 43} fontFamily={FONT} fontSize={25} fill="#000">
            {t}
          </text>
        ))}
        <YLabel x={63} y={TOPS[0] + PLOT_H / 2}>
          <tspan fontStyle="italic">d</tspan>
          <tspan fontSize={18} dy={5} fontStyle="italic">ν</tspan>
          <tspan fontSize={18}>max</tspan>
        </YLabel>
        <YLabel x={42} y={TOPS[1] + PLOT_H / 2}>
          <tspan fontStyle="italic">d</tspan>
          <tspan fontSize={18} dy={5}>Δ</tspan>
          <tspan fontSize={18} fontStyle="italic">ν</tspan>
        </YLabel>
        <YLabel x={42} y={TOPS[2] + PLOT_H / 2}>
          <tspan fontStyle="italic">d</tspan>
          <tspan fontSize={18} dy={5} fontStyle="italic">M</tspan>
        </YLabel>
        <YLabel x={63} y={TOPS[3] + PLOT_H / 2}>
          <tspan fontStyle="italic">d</tspan>
          <tspan fontSize={18} dy={5} fontStyle="italic">R</tspan>
        </YLabel>
        <text x={455.5} y={1382} textAnchor="middle" fontFamily={FONT} fontSize={25} fontStyle="italic" fill="#000">
          M
        </text>
      </svg>
    </div>
  );
}
